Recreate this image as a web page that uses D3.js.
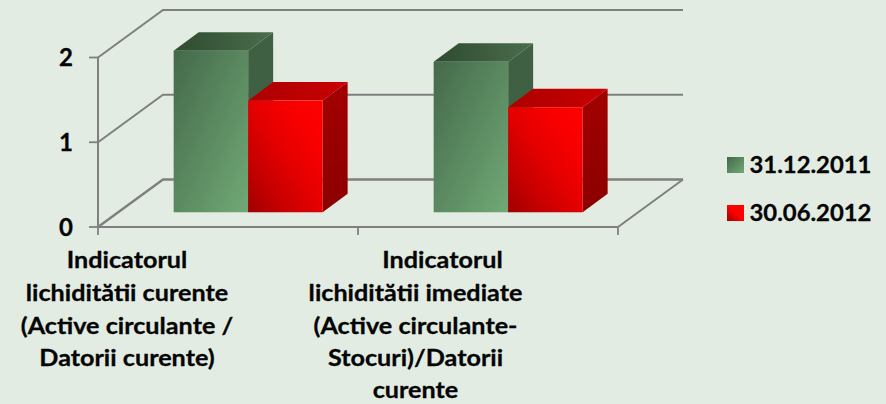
<!DOCTYPE html>
<html><head><meta charset="utf-8">
<script src="https://cdn.jsdelivr.net/npm/d3@7"></script>
<style>html,body{margin:0;padding:0;background:#e3ece3;overflow:hidden}svg{display:block}
text{font-family:Lato,"Open Sans",sans-serif;font-weight:700;fill:#050505;stroke:#050505;stroke-width:.3px}</style></head>
<body><svg id="c" width="886" height="404"></svg>
<script>
const categories = ["c1", "c2"];
const categoryLines = [
  ["Indicatorul", "lichidit\u0103tii curente", "(Active circulante /", "Datorii curente)"],
  ["Indicatorul", "lichidit\u0103tii imediate", "(Active circulante-", "Stocuri)/Datorii", "curente"]
];
const labelCentres = [[127, 127, 127, 127], [442.5, 415.5, 415.5, 415.5, 415.5]];
const labelBaselines = [267.5, 300.5, 333.5, 366, 398];
const seriesNames = ["31.12.2011", "30.06.2012"];
const values2011 = [1.906, 1.776];
const values2012 = [1.318, 1.239];
const yTicks = [0, 1, 2];

const svg = d3.select("#c");
const defs = svg.append("defs");
function grad(id, x1, y1, x2, y2, stops) {
  const g = defs.append("linearGradient").attr("id", id)
    .attr("x1", x1).attr("y1", y1).attr("x2", x2).attr("y2", y2);
  stops.forEach((c, i) => g.append("stop").attr("offset", i / (stops.length - 1)).attr("stop-color", c));
}
grad("gFront", 0, 0, 1, 1, ["#44694a", "#71a976"]);
grad("gTop", 0, 0, 1, 0, ["#2f4a30", "#4a6e4d"]);
grad("gSide", 0, 0, 0, 1, ["#3f6043", "#3f5f41"]);
grad("rFront", 0, 1, 1, 0, ["#a00000", "#c60000", "#e40000", "#f80000", "#ff0000"]);
grad("rTop", 0, 0, 1, 0, ["#ad0000", "#c80000"]);
grad("rSide", 0, 0, 0, 1, ["#a30000", "#8c0000"]);
grad("gLeg", 0, 0, 1, 1, ["#44694a", "#71a976"]);
grad("rLeg", 0, 1, 1, 0, ["#a00000", "#ff0000", "#ff0000"]);

const fills = [["gFront", "gTop", "gSide"], ["rFront", "rTop", "rSide"]];

const y = d3.scaleLinear().domain([0, 2]).range([227, 57.5]);
const x = d3.scaleBand().domain(categories).range([98, 618]).paddingInner(0.427).paddingOuter(0.2135);
const sub = d3.scaleBand().domain(seriesNames).range([0, x.bandwidth()]);
const wallDx = 65, wallDy = -47.5;
const barShift = 0.31, barDepth = 0.39;
const project = (px, py, d) => [px + wallDx * d, py + wallDy * d];

function label(px, py, anchor, size, sx, str) {
  svg.append("text").attr("transform", `translate(${px},${py}) scale(${sx},1)`)
    .attr("text-anchor", anchor).attr("font-size", size).text(str);
}

const grid = "#7f7f7f";
yTicks.forEach(t => {
  const [bx, by] = project(x.range()[0], y(t), 1);
  svg.append("path").attr("fill", "none").attr("stroke", grid).attr("stroke-width", t === 0 ? 2.4 : 2)
    .attr("d", d3.line()([[x.range()[0], y(t)], [bx, by], [x.range()[1] + wallDx, by]]));
});
svg.append("path").attr("fill", "none").attr("stroke", grid).attr("stroke-width", 2)
  .attr("d", d3.line()([[x.range()[1], y(0)], project(x.range()[1], y(0), 1)]));
svg.append("path").attr("fill", "none").attr("stroke", grid).attr("stroke-width", 2)
  .attr("d", d3.line()([[x.range()[0], y(2)], [x.range()[0], y(0)], [x.range()[1], y(0)]]));
yTicks.forEach(t => {
  svg.append("line").attr("x1", x.range()[0] - 9).attr("x2", x.range()[0]).attr("y1", y(t)).attr("y2", y(t))
    .attr("stroke", grid).attr("stroke-width", 1.8);
  label(73, y(t) + 8.5, "end", 24, 1, t);
});
const step = x.step();
[0, 1, 2].forEach(i => {
  const tx = x.range()[0] + i * step;
  svg.append("line").attr("x1", tx).attr("x2", tx).attr("y1", y(0)).attr("y2", y(0) + 8)
    .attr("stroke", grid).attr("stroke-width", 1.8);
});

const seriesValues = [values2011, values2012];
const base = y(0) + wallDy * barShift;
const dBar = [25, wallDy * barDepth];
const pts = a => a.map(p => p.join(",")).join(" ");
categories.forEach((c, ci) => {
  seriesNames.forEach((s, si) => {
    const v = seriesValues[si][ci];
    const x0 = x(c) + sub(s) + wallDx * barShift, w = sub.bandwidth();
    const top = base - (y(0) - y(v));
    const g = svg.append("g");
    g.append("polygon").attr("fill", `url(#${fills[si][2]})`)
      .attr("points", pts([[x0 + w, top], [x0 + w + dBar[0], top + dBar[1]], [x0 + w + dBar[0], base + dBar[1]], [x0 + w, base]]));
    g.append("polygon").attr("fill", `url(#${fills[si][1]})`)
      .attr("points", pts([[x0, top], [x0 + dBar[0], top + dBar[1]], [x0 + w + dBar[0], top + dBar[1]], [x0 + w, top]]));
    g.append("rect").attr("x", x0).attr("y", top).attr("width", w).attr("height", base - top)
      .attr("fill", `url(#${fills[si][0]})`);
  });
});

categoryLines.forEach((lines, i) => {
  lines.forEach((l, j) => label(labelCentres[i][j], labelBaselines[j], "middle", 22.5, 1.12, l));
});

const legendY = d3.scalePoint().domain(seriesNames).range([165, 213]);
seriesNames.forEach((s, i) => {
  svg.append("rect").attr("x", 727).attr("y", legendY(s) - 8).attr("width", 17).attr("height", 16)
    .attr("fill", `url(#${i ? "rLeg" : "gLeg"})`);
  label(749.5, legendY(s) + 8, "start", 22.5, 1.06, s);
});
</script></body></html>
